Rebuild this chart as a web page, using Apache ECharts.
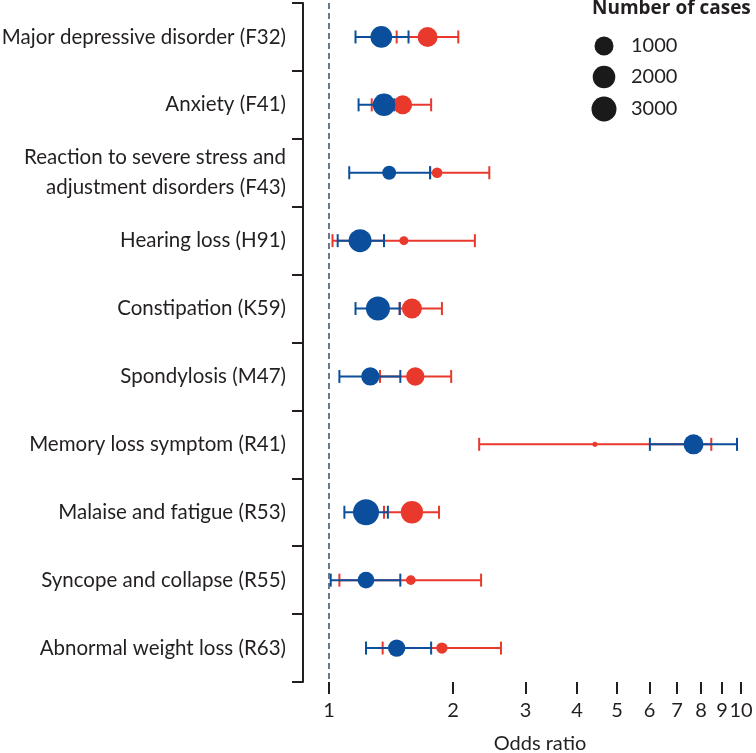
<!DOCTYPE html>
<html>
<head>
<meta charset="utf-8">
<script src="https://cdn.jsdelivr.net/npm/echarts@6/dist/echarts.min.js"></script>
<style>
html,body{margin:0;padding:0;background:#fff;}
#main{width:756px;height:753px;}
</style>
</head>
<body>
<div id="main"></div>
<script>
// ---- data ----
const categories = [
  'Major depressive disorder (F32)',
  'Anxiety (F41)',
  'Reaction to severe stress and\nadjustment disorders (F43)',
  'Hearing loss (H91)',
  'Constipation (K59)',
  'Spondylosis (M47)',
  'Memory loss symptom (R41)',
  'Malaise and fatigue (R53)',
  'Syncope and collapse (R55)',
  'Abnormal weight loss (R63)'
];
const blueOR    = [1.34, 1.36, 1.40, 1.19, 1.315, 1.26, 7.67, 1.23, 1.23, 1.46];
const blueLower = [1.16, 1.18, 1.12, 1.05, 1.16, 1.06, 6.01, 1.09, 1.01, 1.23];
const blueUpper = [1.56, 1.44, 1.76, 1.36, 1.485, 1.49, 9.78, 1.39, 1.49, 1.77];
const blueCases = [1700, 1970, 295, 2150, 2550, 840, 1230, 3500, 600, 690];
const redOR     = [1.735, 1.51, 1.83, 1.52, 1.59, 1.62, 4.42, 1.59, 1.58, 1.88];
const redLower  = [1.46, 1.27, 1.76, 1.02, 1.485, 1.33, 2.315, 1.36, 1.06, 1.35];
const redUpper  = [2.06, 1.77, 2.45, 2.26, 1.88, 1.98, 8.47, 1.85, 2.34, 2.615];
const redCases  = [1230, 1000, 100, 50, 1230, 880, 5, 1900, 68, 125];
const xTicks = [1, 2, 3, 4, 5, 6, 7, 8, 9, 10];
const legendCases = [1000, 2000, 3000];

const BLUE = '#0b4f9c';
const RED = '#e8392c';
const TXT = '#231f20';
const FONT = 'Lato';

function sizeOf(n) { return 19 * Math.pow(n / 1000, 0.25); }

function barData(lo, hi) { return categories.map((c, i) => [c, lo[i], hi[i]]); }
function ptData(or, cases) { return categories.map((c, i) => [or[i], c, cases[i]]); }

function errRender(color) {
  return function (params, api) {
    const y = api.value(0);
    const a = api.coord([api.value(1), y]);
    const b = api.coord([api.value(2), y]);
    const h = 6.5;
    const st = { stroke: color, lineWidth: 2 };
    return { type: 'group', children: [
      { type: 'line', shape: { x1: a[0], y1: a[1], x2: b[0], y2: b[1] }, style: st },
      { type: 'line', shape: { x1: a[0], y1: a[1] - h, x2: a[0], y2: a[1] + h }, style: st },
      { type: 'line', shape: { x1: b[0], y1: b[1] - h, x2: b[0], y2: b[1] + h }, style: st }
    ]};
  };
}

const chart = echarts.init(document.getElementById('main'));

const legendGraphics = [{
  type: 'text', left: 592, top: -1,
  style: { text: 'Number of cases', font: 'bold 19px "Open Sans"', fill: TXT }
}];
const legendY = [46, 77, 109];
legendCases.forEach((n, i) => {
  legendGraphics.push({ type: 'circle', shape: { cx: 604, cy: legendY[i], r: sizeOf(n) / 2 }, style: { fill: '#1a1a1a' } });
  legendGraphics.push({ type: 'text', x: 631, y: legendY[i], style: { text: String(n), font: '20px ' + FONT, fill: TXT, verticalAlign: 'middle' } });
});

chart.setOption({
  animation: false,
  backgroundColor: '#fff',
  textStyle: { fontFamily: FONT },
  grid: { left: 303, right: 15, top: 3, bottom: 71, containLabel: false, outerBoundsMode: 'none' },
  xAxis: {
    type: 'log', logBase: 10, min: 0.865, max: 10,
    name: 'Odds ratio', nameLocation: 'middle', nameGap: 52,
    nameTextStyle: { fontSize: 20, color: TXT, fontFamily: FONT, padding: [0, 0, 0, 36] },
    axisLine: { lineStyle: { color: TXT, width: 2 } },
    axisTick: { show: true, length: 12, lineStyle: { color: TXT, width: 2 }, customValues: xTicks },
    axisLabel: { fontSize: 20, color: TXT, fontFamily: FONT, margin: 19, customValues: xTicks, formatter: v => String(Math.round(v)) },
    splitLine: { show: false },
    minorTick: { show: false }
  },
  yAxis: {
    type: 'category', data: categories, inverse: true, boundaryGap: true,
    axisLine: { lineStyle: { color: TXT, width: 2 } },
    axisTick: { show: true, length: 11, lineStyle: { color: TXT, width: 2 } },
    axisLabel: { fontSize: 20.5, color: TXT, fontFamily: FONT, margin: 17, lineHeight: 30, align: 'right' },
    splitLine: { show: false }
  },
  graphic: legendGraphics,
  series: [
    {
      type: 'custom', name: 'redCI', z: 2,
      renderItem: errRender(RED), encode: { x: [1, 2], y: 0 }, data: barData(redLower, redUpper),
      markLine: {
        silent: true, symbol: 'none', label: { show: false },
        lineStyle: { color: '#41596b', width: 1.6, type: [6, 4] },
        data: [{ xAxis: 1 }]
      }
    },
    { type: 'custom', name: 'blueCI', z: 3, renderItem: errRender(BLUE), encode: { x: [1, 2], y: 0 }, data: barData(blueLower, blueUpper) },
    { type: 'scatter', name: 'red', z: 4, data: ptData(redOR, redCases), symbolSize: v => sizeOf(v[2]), itemStyle: { color: RED, opacity: 1 } },
    { type: 'scatter', name: 'blue', z: 5, data: ptData(blueOR, blueCases), symbolSize: v => sizeOf(v[2]), itemStyle: { color: BLUE, opacity: 1 } }
  ]
});
</script>
</body>
</html>
